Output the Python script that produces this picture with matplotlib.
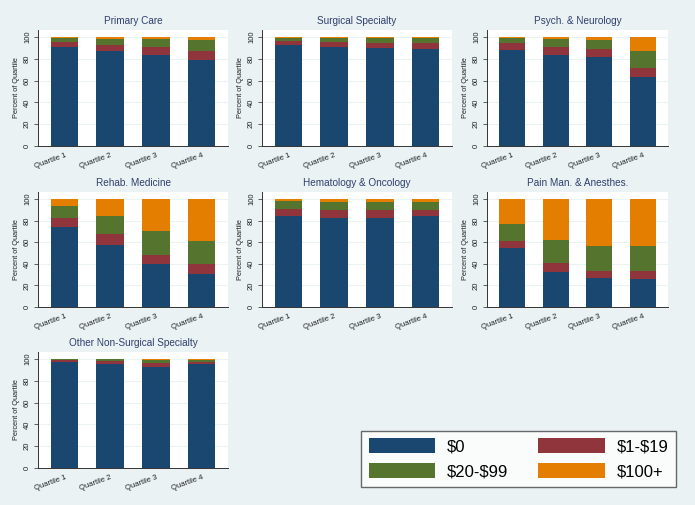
import matplotlib
matplotlib.use("Agg")
import matplotlib.pyplot as plt
from matplotlib.patches import Patch
import numpy as np

plt.rcParams["font.family"] = ["Liberation Sans", "DejaVu Sans"]

quartiles = ["Quartile 1", "Quartile 2", "Quartile 3", "Quartile 4"]
panels = ["Primary Care", "Surgical Specialty", "Psych. & Neurology",
          "Rehab. Medicine", "Hematology & Oncology", "Pain Man. & Anesthes.",
          "Other Non-Surgical Specialty"]
legend_labels = [r"\$0", r"\$1-\$19", r"\$20-\$99", r"\$100+"]
colors = ["#1a476f", "#90353b", "#55752f", "#e37e00"]

# percent of quartile in each spending band, per panel
zero_dollar = [
    [90.8, 86.8, 83.1, 79.4],
    [92.9, 91.1, 89.8, 89.2],
    [87.7, 83.7, 81.5, 63.7],
    [74.5, 57.8, 39.4, 30.8],
    [84.0, 82.5, 82.8, 84.6],
    [54.5, 32.3, 26.8, 25.8],
    [97.2, 95.1, 92.3, 95.1],
]
one_to_19 = [
    [4.6, 6.1, 8.0, 8.0],
    [3.4, 4.6, 4.7, 5.0],
    [6.5, 7.4, 7.4, 8.3],
    [8.0, 9.9, 9.2, 8.9],
    [7.1, 7.0, 6.7, 5.6],
    [7.0, 8.0, 6.7, 7.1],
    [1.6, 3.1, 3.7, 1.8],
]
twenty_to_99 = [
    [4.0, 5.6, 7.4, 9.5],
    [3.1, 3.4, 4.6, 4.6],
    [4.6, 6.7, 8.6, 15.1],
    [11.0, 16.3, 21.6, 21.8],
    [6.7, 8.0, 8.0, 6.7],
    [15.1, 21.9, 23.4, 23.4],
    [0.9, 1.5, 3.1, 2.2],
]
hundred_plus = [
    [0.6, 1.5, 1.5, 3.1],
    [0.6, 0.9, 0.9, 1.2],
    [1.2, 2.2, 2.5, 12.9],
    [6.5, 16.0, 29.8, 38.5],
    [2.2, 2.5, 2.5, 3.1],
    [23.4, 37.8, 43.1, 43.7],
    [0.3, 0.3, 0.9, 0.9],
]

W, H = 695, 505
bg = "#eaf2f3"
fig = plt.figure(figsize=(W / 100, H / 100), dpi=100, facecolor=bg)

col_x = [(38, 228), (262, 452), (487, 668)]
row_y = [(30, 146), (192, 307), (352, 468)]

x = np.arange(len(quartiles))
for i, name in enumerate(panels):
    r, c = divmod(i, 3)
    x0, x1 = col_x[c]
    y0, y1 = row_y[r]
    ax = fig.add_axes([x0 / W, 1 - y1 / H, (x1 - x0) / W, (y1 - y0) / H])
    ax.set_facecolor("white")
    bottom = np.zeros(4)
    for vals, col in zip([zero_dollar[i], one_to_19[i], twenty_to_99[i], hundred_plus[i]], colors):
        ax.bar(x, vals, width=0.6, bottom=bottom, color=col, edgecolor="none", zorder=2)
        bottom = bottom + np.array(vals)
    ax.set_xlim(-0.58, 3.58)
    ax.set_ylim(0, 106.5)
    ax.set_yticks([0, 20, 40, 60, 80, 100])
    ax.set_yticklabels(["0", "20", "40", "60", "80", "100"], rotation=90,
                       va="center", fontsize=5.5, color="#222222")
    ax.set_xticks(x)
    ax.set_xticklabels(quartiles, rotation=20, ha="right", rotation_mode="anchor",
                       fontsize=5.5, color="#222222")
    ax.tick_params(axis="x", length=0, pad=4)
    ax.tick_params(axis="y", length=3, width=0.6, pad=2, color="#444444")
    ax.grid(axis="y", color=bg, linewidth=0.8, zorder=0)
    for s in ["top", "right"]:
        ax.spines[s].set_visible(False)
    for s in ["left", "bottom"]:
        ax.spines[s].set_color("#333333")
        ax.spines[s].set_linewidth(0.7)
    ax.set_ylabel("Percent of Quartile", fontsize=5.3, color="#222222", labelpad=3)
    ax.set_title(name, fontsize=7.2, color="#2f3f6e", pad=4)

handles = [Patch(facecolor=c, edgecolor="none") for c in colors]
order = [0, 2, 1, 3]
leg = fig.legend([handles[k] for k in order], [legend_labels[k] for k in order],
                 ncol=2, loc="upper left",
                 bbox_to_anchor=(361 / W, 1 - 431 / H),
                 fontsize=12, handlelength=4.0, handleheight=1.0,
                 columnspacing=1.8, handletextpad=0.7, labelspacing=0.5,
                 frameon=True, fancybox=False, borderaxespad=0, borderpad=0.45)
leg.get_frame().set_edgecolor("#444444")
leg.get_frame().set_linewidth(1.0)
leg.get_frame().set_facecolor("white")

fig.savefig("out.png", dpi=100, facecolor=bg)
